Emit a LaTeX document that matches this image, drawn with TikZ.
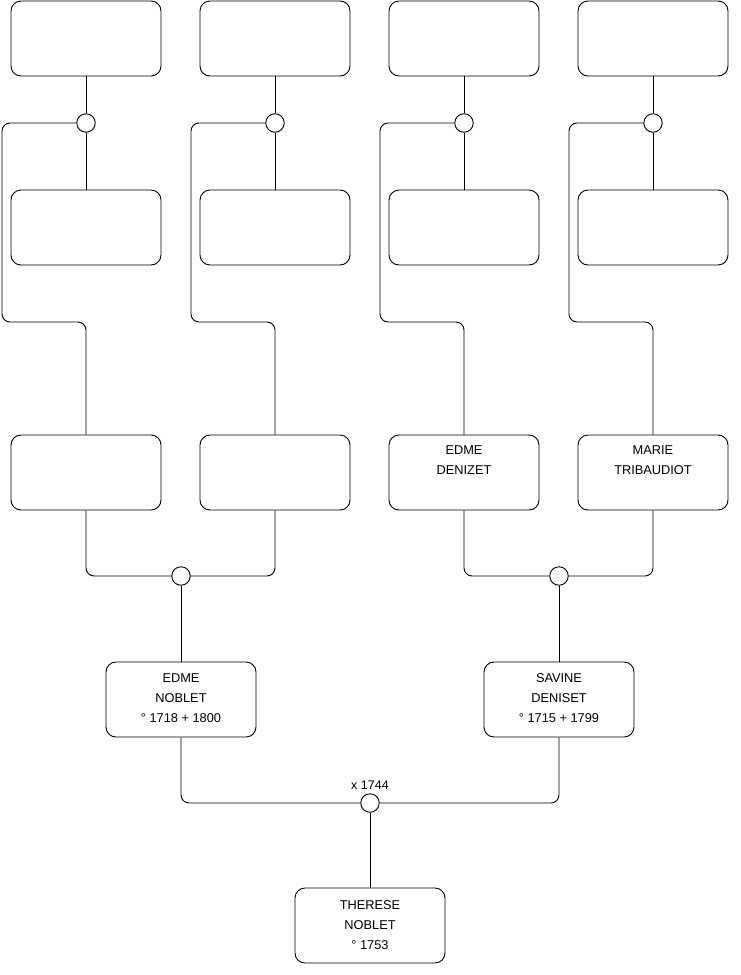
\documentclass[tikz,border=0pt]{standalone}
\usepackage{fontspec}
\setmainfont{Liberation Sans}
\begin{document}
\begin{tikzpicture}[x=1pt,y=-1pt,
 person/.style={draw, rounded corners=10pt, minimum width=150pt, minimum height=75pt, align=center, font=\fontsize{12.8}{20}\selectfont, inner sep=0pt, line width=0.9pt, text depth=2pt},
 emptyline/.style={text depth=4pt},
 lowtext/.style={text depth=0pt},
 junction/.style={draw, circle, minimum size=18.5pt, inner sep=0pt, line width=0.9pt},
 link/.style={draw, line width=0.9pt, rounded corners=8pt},
 lbl/.style={font=\fontsize{12.5}{14}\selectfont, inner sep=0pt}]
\useasboundingbox (0,0) rectangle (740,975);
% row 1 and 2
\foreach \i/\x in {1/86,2/275,3/464,4/653}{
  \node[person] (p\i) at (\x,38.5) {};
  \node[junction] (c\i) at (\x,123) {};
  \node[person] (g\i) at (\x,227.5) {};
}
% row 3
\node[person] (r1) at (86,472.5) {};
\node[person] (r2) at (275,472.5) {};
\node[person, emptyline] (r3) at (464,472.5) {EDME\\DENIZET\\\strut};
\node[person, emptyline] (r4) at (653,472.5) {MARIE\\TRIBAUDIOT\\\strut};
\node[junction] (m1) at (181,576) {};
\node[junction] (m2) at (559,576) {};
% row 4
\node[person] (a) at (181,699.5) {EDME\\NOBLET\\° 1718 + 1800};
\node[person] (b) at (559,699.5) {SAVINE\\DENISET\\° 1715 + 1799};
\node[junction] (mc) at (370,803) {};
\node[lbl] (ml) at (370,785.5) {x 1744};
\node[person, lowtext] (t) at (370,925.5) {THERESE\\NOBLET\\° 1753};
% connectors top
\foreach \i/\lx in {1/2,2/191,3/380,4/569}{
  \draw[link] (p\i) -- (c\i);
  \draw[link] (c\i) -- (g\i);
  \draw[link] (c\i.west) -| (\lx,322) -| (r\i.north);
}
\draw[link] (r1.south) |- (m1.west);
\draw[link] (r2.south) |- (m1.east);
\draw[link] (r3.south) |- (m2.west);
\draw[link] (r4.south) |- (m2.east);
\draw[link] (m1) -- (a);
\draw[link] (m2) -- (b);
\draw[link] (a.south) |- (mc.west);
\draw[link] (b.south) |- (mc.east);
\draw[link] (mc) -- (t);
\end{tikzpicture}
\end{document}
